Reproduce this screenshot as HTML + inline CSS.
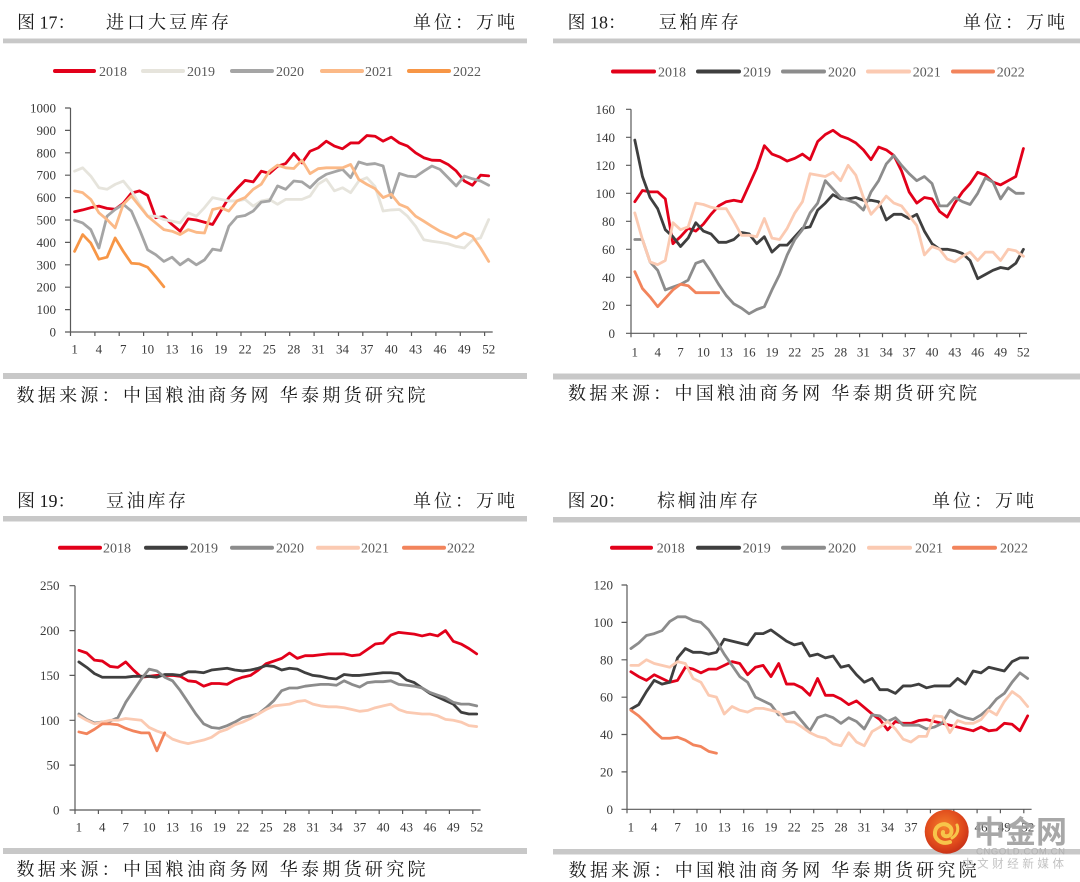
<!DOCTYPE html>
<html><head><meta charset="utf-8"><style>
html,body{margin:0;padding:0;background:#fff;}
svg{display:block;}
.t{font-family:"Liberation Serif","Noto Serif CJK SC",serif;fill:#1a1a1a;font-size:18px;}
.ax{font-family:"Liberation Serif",serif;font-size:13px;fill:#3a3a3a;}
.lg{font-family:"Liberation Serif",serif;font-size:14px;fill:#595959;}
.s{fill:none;stroke-width:2.8;stroke-linejoin:round;stroke-linecap:round;}
.axis{fill:none;stroke:#595959;stroke-width:1.2;}
</style></head><body>
<svg width="1080" height="882" viewBox="0 0 1080 882" xmlns="http://www.w3.org/2000/svg">
<rect width="1080" height="882" fill="#fff"/>
<!-- bars -->
<g fill="#c8c8c8">
<rect x="3" y="38.5" width="524" height="4.8"/>
<rect x="3" y="373" width="524" height="6"/>
<rect x="553" y="38.5" width="527" height="4.8"/>
<rect x="553" y="373.5" width="527" height="6"/>
<rect x="3" y="516" width="524" height="5.5"/>
<rect x="3" y="848" width="524" height="6"/>
<rect x="553" y="517" width="527" height="5.5"/>
<rect x="553" y="849" width="527" height="5.5"/>
</g>
<!-- titles -->
<text class="t" x="17" y="28.5">图 17：</text>
<text class="t" x="106" y="28.5" textLength="123" lengthAdjust="spacing">进口大豆库存</text>
<text class="t" x="413" y="28.5" textLength="102" lengthAdjust="spacing">单位：万吨</text>
<text class="t" x="567.5" y="28.5">图 18：</text>
<text class="t" x="658.7" y="28.5" textLength="80" lengthAdjust="spacing">豆粕库存</text>
<text class="t" x="963" y="28.5" textLength="102" lengthAdjust="spacing">单位：万吨</text>
<text class="t" x="17" y="507">图 19：</text>
<text class="t" x="106" y="507" textLength="80" lengthAdjust="spacing">豆油库存</text>
<text class="t" x="413" y="507" textLength="102" lengthAdjust="spacing">单位：万吨</text>
<text class="t" x="567.5" y="507">图 20：</text>
<text class="t" x="657" y="507" textLength="101" lengthAdjust="spacing">棕榈油库存</text>
<text class="t" x="932" y="507" textLength="102" lengthAdjust="spacing">单位：万吨</text>
<!-- footers -->
<text class="t" x="16.5" y="401.5" textLength="409" lengthAdjust="spacing">数据来源：中国粮油商务网 华泰期货研究院</text>
<text class="t" x="568" y="399.5" textLength="409" lengthAdjust="spacing">数据来源：中国粮油商务网 华泰期货研究院</text>
<text class="t" x="16.5" y="875.5" textLength="409" lengthAdjust="spacing">数据来源：中国粮油商务网 华泰期货研究院</text>
<text class="t" x="568.6" y="876.5" textLength="408" lengthAdjust="spacing">数据来源：中国粮油商务网 华泰期货研究院</text>

<!-- ================= CHART 1 ================= -->
<g stroke-width="4" stroke-linecap="round">
<line x1="55" y1="71" x2="94" y2="71" stroke="#e2001a"/>
<line x1="143" y1="71" x2="183" y2="71" stroke="#e6e4dc"/>
<line x1="232" y1="71" x2="272" y2="71" stroke="#a5a5a5"/>
<line x1="322" y1="71" x2="362" y2="71" stroke="#fbb987"/>
<line x1="409" y1="71" x2="449" y2="71" stroke="#f79646"/>
</g>
<g class="lg"><text x="99" y="76">2018</text><text x="187" y="76">2019</text><text x="276" y="76">2020</text><text x="365" y="76">2021</text><text x="453" y="76">2022</text></g>
<path class="axis" d="M70.5 108V332H492.7M65 108h5.5M65 130.4h5.5M65 152.8h5.5M65 175.2h5.5M65 197.6h5.5M65 220h5.5M65 242.4h5.5M65 264.8h5.5M65 287.2h5.5M65 309.6h5.5M65 332h5.5M70.5 332v4M94.9 332v4M119.2 332v4M143.6 332v4M167.9 332v4M192.3 332v4M216.7 332v4M241 332v4M265.4 332v4M289.7 332v4M314.1 332v4M338.5 332v4M362.8 332v4M387.2 332v4M411.5 332v4M435.9 332v4M460.3 332v4M484.6 332v4"/>
<g class="ax" text-anchor="end">
<text x="56" y="336.5">0</text><text x="56" y="314.1">100</text><text x="56" y="291.7">200</text><text x="56" y="269.3">300</text><text x="56" y="246.9">400</text><text x="56" y="224.5">500</text><text x="56" y="202.1">600</text><text x="56" y="179.7">700</text><text x="56" y="157.3">800</text><text x="56" y="134.9">900</text><text x="56" y="112.5">1000</text>
</g>
<g class="ax" text-anchor="middle">
<text x="74.6" y="353.5">1</text><text x="98.9" y="353.5">4</text><text x="123.3" y="353.5">7</text><text x="147.6" y="353.5">10</text><text x="172" y="353.5">13</text><text x="196.4" y="353.5">16</text><text x="220.7" y="353.5">19</text><text x="245.1" y="353.5">22</text><text x="269.4" y="353.5">25</text><text x="293.8" y="353.5">28</text><text x="318.2" y="353.5">31</text><text x="342.5" y="353.5">34</text><text x="366.9" y="353.5">37</text><text x="391.2" y="353.5">40</text><text x="415.6" y="353.5">43</text><text x="440" y="353.5">46</text><text x="464.3" y="353.5">49</text><text x="488.7" y="353.5">52</text>
</g>
<g transform="translate(66.44,332) scale(8.12,-0.224)">
<polyline class="s" vector-effect="non-scaling-stroke" stroke="#e2001a" points="1,537 2,545 3,555 4,562 5,552 6,548 7,575 8,620 9,630 10,610 11,510 12,515 13,480 14,450 15,505 16,500 17,490 18,480 19,540 20,600 21,640 22,677 23,670 24,718 25,708 26,740 27,752 28,797 29,755 30,807 31,822 32,852 33,830 34,818 35,844 36,844 37,877 38,874 39,852 40,870 41,844 42,830 43,800 44,778 45,767 46,766 47,748 48,719 49,674 50,655 51,700 52,697"/>
<polyline class="s" vector-effect="non-scaling-stroke" stroke="#e6e4dc" points="1,718 2,733 3,696 4,644 5,637 6,659 7,674 8,630 9,570 10,517 11,517 12,502 13,495 14,487 15,532 16,517 17,555 18,600 19,592 20,585 21,585 22,592 23,562 24,585 25,592 26,570 27,592 28,592 29,592 30,607 31,660 32,682 33,630 34,644 35,622 36,674 37,689 38,650 39,540 40,545 41,547 42,517 43,472 44,412 45,405 46,400 47,394 48,382 49,375 50,410 51,420 52,502"/>
<polyline class="s" vector-effect="non-scaling-stroke" stroke="#a5a5a5" points="1,499 2,487 3,457 4,375 5,517 6,547 7,570 8,540 9,457 10,367 11,345 12,315 13,334 14,300 15,325 16,300 17,322 18,370 19,364 20,472 21,514 22,520 23,540 24,580 25,585 26,652 27,637 28,674 29,670 30,644 31,681 32,704 33,715 34,726 35,689 36,759 37,748 38,752 39,741 40,600 41,708 42,696 43,693 44,718 45,741 46,726 47,689 48,652 49,696 50,684 51,674 52,655"/>
<polyline class="s" vector-effect="non-scaling-stroke" stroke="#fbb987" points="1,630 2,622 3,592 4,532 5,502 6,465 7,570 8,607 9,562 10,517 11,487 12,457 13,450 14,435 15,457 16,445 17,442 18,547 19,555 20,540 21,585 22,600 23,637 24,660 25,718 26,745 27,733 28,730 29,767 30,707 31,729 32,733 33,733 34,733 35,748 36,681 37,659 38,640 39,600 40,615 41,570 42,555 43,517 44,495 45,472 46,450 47,435 48,420 49,442 50,427 51,375 52,315"/>
<polyline class="s" vector-effect="non-scaling-stroke" stroke="#f79646" points="1,360 2,435 3,397 4,325 5,334 6,420 7,360 8,307 9,304 10,289 11,247 12,202"/>
</g>

<!-- ================= CHART 2 ================= -->
<g stroke-width="4" stroke-linecap="round">
<line x1="613" y1="71.5" x2="654" y2="71.5" stroke="#e2001a"/>
<line x1="698" y1="71.5" x2="739" y2="71.5" stroke="#3f3f3f"/>
<line x1="783" y1="71.5" x2="824" y2="71.5" stroke="#8c8c8c"/>
<line x1="868" y1="71.5" x2="909" y2="71.5" stroke="#fbcab2"/>
<line x1="953" y1="71.5" x2="993" y2="71.5" stroke="#f2845c"/>
</g>
<g class="lg"><text x="658" y="76.5">2018</text><text x="743" y="76.5">2019</text><text x="828" y="76.5">2020</text><text x="912.7" y="76.5">2021</text><text x="996.7" y="76.5">2022</text></g>
<path class="axis" d="M631 109.3V333.3H1027M626 109.3h5M626 137.3h5M626 165.3h5M626 193.3h5M626 221.3h5M626 249.3h5M626 277.3h5M626 305.3h5M626 333.3h5M631 333.3v4M653.9 333.3v4M676.7 333.3v4M699.6 333.3v4M722.4 333.3v4M745.3 333.3v4M768.2 333.3v4M791 333.3v4M813.9 333.3v4M836.7 333.3v4M859.6 333.3v4M882.5 333.3v4M905.3 333.3v4M928.2 333.3v4M951 333.3v4M973.9 333.3v4M996.8 333.3v4M1019.6 333.3v4"/>
<g class="ax" text-anchor="end">
<text x="615" y="337.8">0</text><text x="615" y="309.8">20</text><text x="615" y="281.8">40</text><text x="615" y="253.8">60</text><text x="615" y="225.8">80</text><text x="615" y="197.8">100</text><text x="615" y="169.8">120</text><text x="615" y="141.8">140</text><text x="615" y="113.8">160</text>
</g>
<g class="ax" text-anchor="middle">
<text x="634.8" y="356.5">1</text><text x="657.7" y="356.5">4</text><text x="680.5" y="356.5">7</text><text x="703.4" y="356.5">10</text><text x="726.2" y="356.5">13</text><text x="749.1" y="356.5">16</text><text x="772" y="356.5">19</text><text x="794.8" y="356.5">22</text><text x="817.7" y="356.5">25</text><text x="840.6" y="356.5">28</text><text x="863.4" y="356.5">31</text><text x="886.3" y="356.5">34</text><text x="909.1" y="356.5">37</text><text x="932" y="356.5">40</text><text x="954.9" y="356.5">43</text><text x="977.7" y="356.5">46</text><text x="1000.6" y="356.5">49</text><text x="1023.4" y="356.5">52</text>
</g>
<g transform="translate(627.19,333.3) scale(7.62,-1.4)">
<polyline class="s" vector-effect="non-scaling-stroke" stroke="#e2001a" points="1,94 2,102 3,101 4,101 5,96 6,64 7,69 8,75 9,73 10,78 11,85 12,91 13,94 14,95 15,94 16,106 17,118 18,134 19,128 20,126 21,123 22,125 23,128 24,124 25,137 26,142 27,145 28,141 29,139 30,136 31,131 32,124 33,133 34,131 35,127 36,116 37,101 38,93 39,97 40,96 41,87 42,83 43,93 44,101 45,107 46,115 47,113 48,108 49,106 50,109 51,112 52,132"/>
<polyline class="s" vector-effect="non-scaling-stroke" stroke="#3f3f3f" points="1,138 2,112 3,97 4,89 5,74 6,69 7,62 8,68 9,79 10,73 11,71 12,65 13,65 14,67 15,72 16,71 17,64 18,69 19,58 20,63 21,63 22,69 23,75 24,76 25,88 26,93 27,99 28,96 29,96 30,97 31,95 32,95 33,94 34,81 35,85 36,85 37,82 38,85 39,73 40,64 41,60 42,60 43,59 44,57 45,52 46,39 47,42 48,45 49,47 50,46 51,50 52,60"/>
<polyline class="s" vector-effect="non-scaling-stroke" stroke="#8c8c8c" points="1,67 2,67 3,51 4,45 5,31 6,33 7,35 8,38 9,50 10,52 11,44 12,35 13,27 14,21 15,18 16,14 17,17 18,19 19,31 20,42 21,56 22,67 23,74 24,86 25,93 26,109 27,103 28,97 29,95 30,93 31,88 32,101 33,109 34,121 35,127 36,120 37,114 38,109 39,112 40,107 41,91 42,91 43,97 44,94 45,92 46,100 47,111 48,108 49,96 50,104 51,100 52,100"/>
<polyline class="s" vector-effect="non-scaling-stroke" stroke="#fbcab2" points="1,86 2,67 3,51 4,49 5,52 6,79 7,74 8,76 9,93 10,92 11,90 12,89 13,89 14,80 15,70 16,70 17,69 18,82 19,68 20,67 21,75 22,86 23,94 24,114 25,113 26,112 27,115 28,109 29,120 30,113 31,97 32,85 33,91 34,98 35,93 36,91 37,84 38,77 39,56 40,62 41,60 42,53 43,51 44,55 45,58 46,52 47,58 48,58 49,52 50,60 51,59 52,55"/>
<polyline class="s" vector-effect="non-scaling-stroke" stroke="#f2845c" points="1,44 2,32 3,26 4,19 5,25 6,31 7,35 8,34 9,29 10,29 11,29 12,29"/>
</g>

<!-- ================= CHART 3 ================= -->
<g stroke-width="4" stroke-linecap="round">
<line x1="60" y1="547.7" x2="100" y2="547.7" stroke="#e2001a"/>
<line x1="146" y1="547.7" x2="186" y2="547.7" stroke="#3f3f3f"/>
<line x1="232" y1="547.7" x2="272" y2="547.7" stroke="#8c8c8c"/>
<line x1="318" y1="547.7" x2="358" y2="547.7" stroke="#fbcab2"/>
<line x1="404" y1="547.7" x2="444" y2="547.7" stroke="#f2845c"/>
</g>
<g class="lg"><text x="103" y="552.7">2018</text><text x="190" y="552.7">2019</text><text x="276" y="552.7">2020</text><text x="361" y="552.7">2021</text><text x="447" y="552.7">2022</text></g>
<path class="axis" d="M75 585.7V810H480.6M69.5 585.7h5.5M69.5 630.6h5.5M69.5 675.4h5.5M69.5 720.3h5.5M69.5 765.1h5.5M69.5 810h5.5M75 810v4M98.4 810v4M121.8 810v4M145.2 810v4M168.6 810v4M192 810v4M215.4 810v4M238.8 810v4M262.2 810v4M285.6 810v4M309 810v4M332.4 810v4M355.8 810v4M379.2 810v4M402.6 810v4M426 810v4M449.4 810v4M472.8 810v4"/>
<g class="ax" text-anchor="end">
<text x="59.5" y="814.5">0</text><text x="59.5" y="769.6">50</text><text x="59.5" y="724.8">100</text><text x="59.5" y="679.9">150</text><text x="59.5" y="635.1">200</text><text x="59.5" y="590.2">250</text>
</g>
<g class="ax" text-anchor="middle">
<text x="78.9" y="831.5">1</text><text x="102.3" y="831.5">4</text><text x="125.7" y="831.5">7</text><text x="149.1" y="831.5">10</text><text x="172.5" y="831.5">13</text><text x="195.9" y="831.5">16</text><text x="219.3" y="831.5">19</text><text x="242.7" y="831.5">22</text><text x="266.1" y="831.5">25</text><text x="289.5" y="831.5">28</text><text x="312.9" y="831.5">31</text><text x="336.3" y="831.5">34</text><text x="359.7" y="831.5">37</text><text x="383.1" y="831.5">40</text><text x="406.5" y="831.5">43</text><text x="429.9" y="831.5">46</text><text x="453.3" y="831.5">49</text><text x="476.7" y="831.5">52</text>
</g>
<g transform="translate(71.1,810) scale(7.8,-0.8972)">
<polyline class="s" vector-effect="non-scaling-stroke" stroke="#e2001a" points="1,178 2,175 3,167 4,166 5,160 6,159 7,165 8,156 9,148 10,149 11,150 12,150 13,150 14,149 15,144 16,143 17,138 18,141 19,141 20,140 21,145 22,148 23,150 24,156 25,163 26,166 27,169 28,175 29,169 30,172 31,172 32,173 33,174 34,174 35,174 36,172 37,173 38,179 39,185 40,186 41,195 42,198 43,197 44,196 45,194 46,196 47,194 48,200 49,188 50,185 51,180 52,174"/>
<polyline class="s" vector-effect="non-scaling-stroke" stroke="#3f3f3f" points="1,165 2,159 3,152 4,148 5,148 6,148 7,148 8,149 9,149 10,149 11,148 12,151 13,151 14,150 15,154 16,154 17,153 18,156 19,157 20,158 21,156 22,155 23,156 24,158 25,161 26,160 27,156 28,158 29,157 30,153 31,150 32,149 33,147 34,146 35,151 36,150 37,150 38,151 39,152 40,153 41,153 42,152 43,145 44,142 45,136 46,130 47,126 48,122 49,118 50,109 51,107 52,107"/>
<polyline class="s" vector-effect="non-scaling-stroke" stroke="#8c8c8c" points="1,107 2,101 3,97 4,98 5,99 6,103 7,120 8,133 9,146 10,157 11,155 12,148 13,144 14,133 15,120 16,107 17,96 18,92 19,91 20,94 21,98 22,103 23,105 24,107 25,114 26,122 27,133 28,136 29,136 30,138 31,139 32,140 33,140 34,139 35,144 36,140 37,137 38,142 39,143 40,143 41,144 42,140 43,139 44,138 45,136 46,131 47,128 48,125 49,120 50,118 51,118 52,116"/>
<polyline class="s" vector-effect="non-scaling-stroke" stroke="#fbcab2" points="1,105 2,100 3,96 4,98 5,100 6,100 7,102 8,101 9,100 10,92 11,88 12,85 13,79 14,76 15,74 16,76 17,78 18,81 19,87 20,90 21,95 22,98 23,102 24,107 25,112 26,116 27,117 28,118 29,121 30,122 31,118 32,116 33,115 34,115 35,114 36,112 37,110 38,111 39,114 40,116 41,118 42,112 43,109 44,108 45,107 46,107 47,105 48,101 49,100 50,98 51,94 52,93"/>
<polyline class="s" vector-effect="non-scaling-stroke" stroke="#f2845c" points="1,87 2,85 3,90 4,96 5,96 6,95 7,91 8,88 9,86 10,86 11,66 12,86"/>
</g>

<!-- ================= CHART 4 ================= -->
<g stroke-width="4" stroke-linecap="round">
<line x1="612" y1="547.7" x2="651" y2="547.7" stroke="#e2001a"/>
<line x1="698" y1="547.7" x2="739" y2="547.7" stroke="#3f3f3f"/>
<line x1="783" y1="547.7" x2="824" y2="547.7" stroke="#8c8c8c"/>
<line x1="869" y1="547.7" x2="910" y2="547.7" stroke="#fbcab2"/>
<line x1="954" y1="547.7" x2="995" y2="547.7" stroke="#f2845c"/>
</g>
<g class="lg"><text x="656.7" y="552.7">2018</text><text x="742.7" y="552.7">2019</text><text x="828" y="552.7">2020</text><text x="915" y="552.7">2021</text><text x="1000" y="552.7">2022</text></g>
<path class="axis" d="M627 585V809.3H1031.6M621.5 585h5.5M621.5 622.4h5.5M621.5 659.8h5.5M621.5 697.2h5.5M621.5 734.5h5.5M621.5 771.9h5.5M621.5 809.3h5.5M627 809.3v4M650.3 809.3v4M673.7 809.3v4M697 809.3v4M720.4 809.3v4M743.7 809.3v4M767 809.3v4M790.4 809.3v4M813.7 809.3v4M837.1 809.3v4M860.4 809.3v4M883.7 809.3v4M907.1 809.3v4M930.4 809.3v4M953.8 809.3v4M977.1 809.3v4M1000.4 809.3v4M1023.8 809.3v4"/>
<g class="ax" text-anchor="end">
<text x="613" y="813.8">0</text><text x="613" y="776.4">20</text><text x="613" y="739">40</text><text x="613" y="701.7">60</text><text x="613" y="664.3">80</text><text x="613" y="626.9">100</text><text x="613" y="589.5">120</text>
</g>
<g class="ax" text-anchor="middle">
<text x="630.9" y="831.5">1</text><text x="654.2" y="831.5">4</text><text x="677.6" y="831.5">7</text><text x="700.9" y="831.5">10</text><text x="724.2" y="831.5">13</text><text x="747.6" y="831.5">16</text><text x="770.9" y="831.5">19</text><text x="794.3" y="831.5">22</text><text x="817.6" y="831.5">25</text><text x="841" y="831.5">28</text><text x="864.3" y="831.5">31</text><text x="887.6" y="831.5">34</text><text x="911" y="831.5">37</text><text x="934.3" y="831.5">40</text><text x="957.7" y="831.5">43</text><text x="981" y="831.5">46</text><text x="1004.3" y="831.5">49</text><text x="1027.7" y="831.5">52</text>
</g>
<g transform="translate(623.11,809.3) scale(7.78,-1.869)">
<polyline class="s" vector-effect="non-scaling-stroke" stroke="#e2001a" points="1,73.6 2,71 3,69 4,72 5,70 6,68 7,69 8,76 9,75 10,73 11,75 12,75 13,77 14,79 15,78 16,72 17,76 18,77 19,71 20,78 21,67 22,67 23,65 24,61 25,70 26,61 27,61 28,59 29,56 30,58 31,54.5 32,51 33,48 34,42.5 35,47 36,46 37,46 38,47.5 39,48 40,47 41,46 42,45 43,44 44,43 45,42 46,44 47,42 48,42.5 49,46 50,45.5 51,42 52,50"/>
<polyline class="s" vector-effect="non-scaling-stroke" stroke="#3f3f3f" points="1,53.6 2,56 3,63 4,69 5,67 6,68 7,81 8,86 9,84 10,84 11,83 12,84 13,91 14,90 15,89 16,88 17,94 18,94 19,96 20,93 21,90 22,88 23,89 24,82 25,83 26,81 27,82 28,76 29,77 30,72 31,68 32,70 33,64 34,64 35,62 36,66 37,66 38,67 39,65 40,66 41,66 42,66 43,70 44,67 45,74 46,73 47,76 48,75 49,74 50,79 51,81 52,81"/>
<polyline class="s" vector-effect="non-scaling-stroke" stroke="#8c8c8c" points="1,86 2,89 3,93 4,94 5,95.6 6,100.5 7,103 8,103 9,101 10,100 11,96 12,90 13,83 14,77 15,71 16,68 17,60 18,58 19,56 20,50.5 21,51 22,52 23,47 24,42 25,49 26,50.5 27,49 28,46 29,49 30,47 31,43 32,50.5 33,50 34,47 35,49 36,45 37,45 38,45 39,43 40,44 41,46 42,53 43,50.5 44,49 45,48 46,50.5 47,54 48,59 49,62 50,68 51,73 52,70"/>
<polyline class="s" vector-effect="non-scaling-stroke" stroke="#fbcab2" points="1,77 2,77 3,80 4,78 5,77 6,76 7,79 8,78 9,70 10,68 11,61 12,60 13,51 14,55 15,53 16,52 17,54 18,54 19,53 20,52 21,47 22,46.6 23,44 24,41 25,39 26,38 27,35 28,34 29,41 30,36 31,34 32,41.6 33,44 34,47 35,43 36,37.5 37,36 38,39 39,39 40,50 41,49.6 42,41 43,47.5 44,46 45,46 46,48 47,53 48,50.5 49,57.7 50,63 51,60 52,55"/>
<polyline class="s" vector-effect="non-scaling-stroke" stroke="#f2845c" points="1,53 2,50 3,46 4,41.6 5,38 6,38 7,38.6 8,37 9,34.5 10,33.6 11,31 12,30"/>
</g>

<!-- watermark -->
<defs>
<radialGradient id="wg" cx="45%" cy="40%" r="60%">
<stop offset="0" stop-color="#f4812c"/>
<stop offset="0.7" stop-color="#e04a1c"/>
<stop offset="1" stop-color="#c93318"/>
</radialGradient>
</defs>
<circle cx="946.7" cy="831.7" r="22" fill="url(#wg)"/>
<path d="M950 842c-9 3-16-3-15-10 1-7 9-10 14-6 4 3 3 9-1 10-3 1-6-1-5-4" fill="none" stroke="#f7c54a" stroke-width="4" stroke-linecap="round"/>
<path d="M952 838c5-3 7-8 5-13" fill="none" stroke="#f7c54a" stroke-width="3" stroke-linecap="round"/>
<text x="974" y="843" font-family="'Noto Sans CJK SC',sans-serif" font-weight="bold" font-size="31" fill="#9e9e9e" fill-opacity="0.9" textLength="93" lengthAdjust="spacing">中金网</text>
<text x="976" y="854.5" font-family="'Liberation Sans',sans-serif" font-size="9.5" fill="#b0b0b0" textLength="89" lengthAdjust="spacing">CNGOLD.COM.CN</text>
<text x="962" y="867.5" font-family="'Noto Sans CJK SC',sans-serif" font-size="11.5" fill="#bbbbbb" fill-opacity="0.9" textLength="102" lengthAdjust="spacing">中文财经新媒体</text>
</svg>
</body></html>
